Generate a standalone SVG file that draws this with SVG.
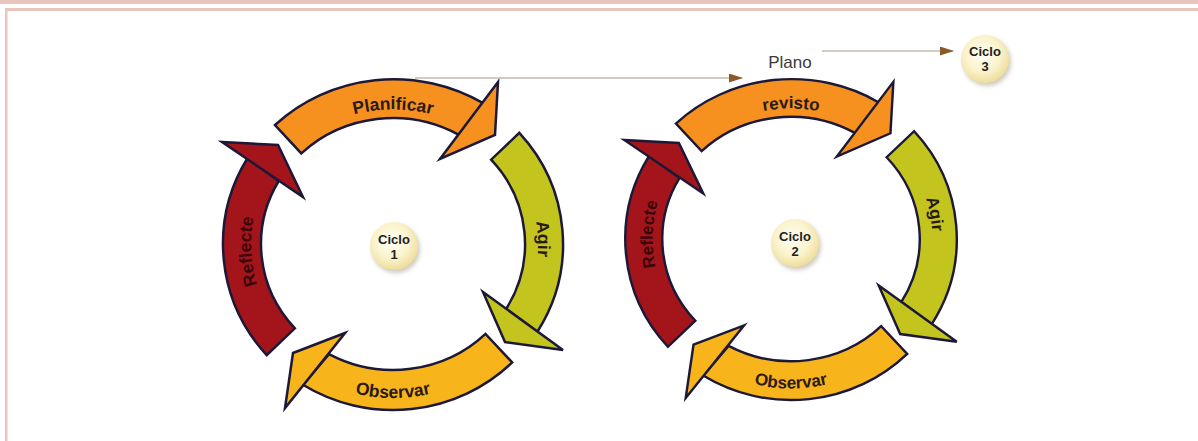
<svg xmlns="http://www.w3.org/2000/svg" width="1198" height="441" viewBox="0 0 1198 441">
<style>
.frame{fill:#e8c6bb}
.band{stroke:#1c1838;stroke-width:2.5;stroke-linejoin:miter}
.orange{fill:#f6911f}
.red{fill:#a3151b}
.green{fill:#c3c41d}
.yellow{fill:#f8b51b}
.lbl{font-family:"Liberation Sans",Arial,sans-serif;font-weight:bold;font-size:17.5px;fill:#2b1a14;text-anchor:middle}
.lbl.dark{fill:#3a0609}
.cl{font-family:"Liberation Sans",Arial,sans-serif;font-weight:bold;font-size:13px;fill:#222;text-anchor:middle}
.plano{font-family:"Liberation Sans",Arial,sans-serif;font-size:17px;fill:#3a3a3a;text-anchor:middle}
.conn{stroke:#a89a8c;stroke-width:1.2;fill:none}
</style>
<defs>
<radialGradient id="cg" cx="45%" cy="40%" r="60%">
<stop offset="0" stop-color="#fffff6"/>
<stop offset="0.6" stop-color="#fbf3cd"/>
<stop offset="1" stop-color="#eedd9c"/>
</radialGradient>
<filter id="sh" x="-30%" y="-30%" width="160%" height="160%">
<feGaussianBlur stdDeviation="2"/>
</filter>
<marker id="ah" markerUnits="userSpaceOnUse" markerWidth="14" markerHeight="9" viewBox="0 0 14 9" refX="13" refY="4.5" orient="auto">
<path d="M0,0 L14,4.5 L0,9 Z" fill="#8b5a2b"/>
</marker>
<path id="bandPlan" d="M275,125 A170,161 0 0 1 483.1,103.2 L459,134.9 A132,126 0 0 0 301.3,153.4 Z"/>
<path id="headPlan" d="M498,82 L495,135 L440,159 Z"/>
<path id="bandRef" d="M266.7,355.1 A170,166 0 0 1 247.3,158.5 L278.7,181 A132,126 0 0 0 294.9,328.3 Z"/>
<path id="headRef" d="M222,142 L278,145 L303,197 Z"/>
<path id="bandAgir" d="M519.3,132.9 A170,166 0 0 1 537.2,332 L506.2,308.9 A132,126 0 0 0 491.1,159.7 Z"/>
<path id="headAgir" d="M483,292 L563,350 L505,342 Z"/>
<path id="bandObs" d="M512.2,362.4 A170,166 0 0 1 302.9,384.8 L329,354.2 A132,126 0 0 0 485.5,333.9 Z"/>
<path id="headObs" d="M345,333 L293,353 L285,408 Z"/>
<path id="tpTop" d="M267.4,177 A145,135 0 0 1 518.6,177"/>
<path id="tpAgir1" d="M461.1,120.4 A145,140 0 0 1 469.8,362.7"/>
<path id="tpAgir2" d="M442.6,112.4 A145,140 0 0 1 486.2,351.2"/>
<path id="tpRef1" d="M328.5,368.7 A142,140 0 0 1 315.7,126.6"/>
<path id="tpRef2" d="M317.8,362.7 A142,140 0 0 1 326.3,120.4"/>
<path id="tpBot" d="M257,321 A157,154 0 0 0 529,321"/>
</defs>

<g id="frame">
<rect class="frame" x="0" y="0" width="1198" height="4"/>
<rect class="frame" x="5" y="8" width="1193" height="3"/>
<rect class="frame" x="5" y="8" width="2.5" height="433"/>
</g>

<g id="cycle1">
<g id="c1-planificar">
<use href="#bandPlan" class="band orange"/>
<use href="#headPlan" class="band orange"/>
<text class="lbl"><textPath href="#tpTop" startOffset="50%">Planificar</textPath></text>
</g>
<g id="c1-agir">
<use href="#bandAgir" class="band green"/>
<use href="#headAgir" class="band green"/>
<text class="lbl"><textPath href="#tpAgir1" startOffset="50%">Agir</textPath></text>
</g>
<g id="c1-observar">
<use href="#bandObs" class="band yellow"/>
<use href="#headObs" class="band yellow"/>
<text class="lbl"><textPath href="#tpBot" startOffset="50%">Observar</textPath></text>
</g>
<g id="c1-reflecte">
<use href="#bandRef" class="band red"/>
<use href="#headRef" class="band red"/>
<text class="lbl dark"><textPath href="#tpRef1" startOffset="50%">Reflecte</textPath></text>
</g>
</g>

<g id="cycle2" transform="translate(791,239) scale(0.975,0.97) translate(-393,-244)">
<g id="c2-revisto">
<use href="#bandPlan" class="band orange"/>
<use href="#headPlan" class="band orange"/>
<text class="lbl"><textPath href="#tpTop" startOffset="50%">revisto</textPath></text>
</g>
<g id="c2-agir">
<use href="#bandAgir" class="band green"/>
<use href="#headAgir" class="band green"/>
<text class="lbl"><textPath href="#tpAgir2" startOffset="50%">Agir</textPath></text>
</g>
<g id="c2-observar">
<use href="#bandObs" class="band yellow"/>
<use href="#headObs" class="band yellow"/>
<text class="lbl"><textPath href="#tpBot" startOffset="50%">Observar</textPath></text>
</g>
<g id="c2-reflecte">
<use href="#bandRef" class="band red"/>
<use href="#headRef" class="band red"/>
<text class="lbl dark"><textPath href="#tpRef2" startOffset="50%">Reflecte</textPath></text>
</g>
</g>

<g id="ciclo1">
<circle cx="396" cy="249" r="24" fill="#a9a08a" opacity="0.55" filter="url(#sh)"/>
<circle cx="394" cy="246" r="24" fill="url(#cg)"/>
<text class="cl" x="394" y="244">Ciclo</text>
<text class="cl" x="394" y="259">1</text>
</g>
<g id="ciclo2">
<circle cx="797" cy="246" r="24" fill="#a9a08a" opacity="0.55" filter="url(#sh)"/>
<circle cx="795" cy="243" r="24" fill="url(#cg)"/>
<text class="cl" x="795" y="241">Ciclo</text>
<text class="cl" x="795" y="256">2</text>
</g>
<g id="ciclo3">
<circle cx="987" cy="62" r="24" fill="#a9a08a" opacity="0.55" filter="url(#sh)"/>
<circle cx="985" cy="59" r="24" fill="url(#cg)"/>
<text class="cl" x="985" y="56">Ciclo</text>
<text class="cl" x="985" y="71">3</text>
</g>
<g id="plano">
<text class="plano" x="790" y="68">Plano</text>
</g>

<g id="connectors">
<line class="conn" x1="415" y1="78" x2="742" y2="78" marker-end="url(#ah)"/>
<line class="conn" x1="822" y1="51" x2="953" y2="51" marker-end="url(#ah)"/>
</g>
</svg>
